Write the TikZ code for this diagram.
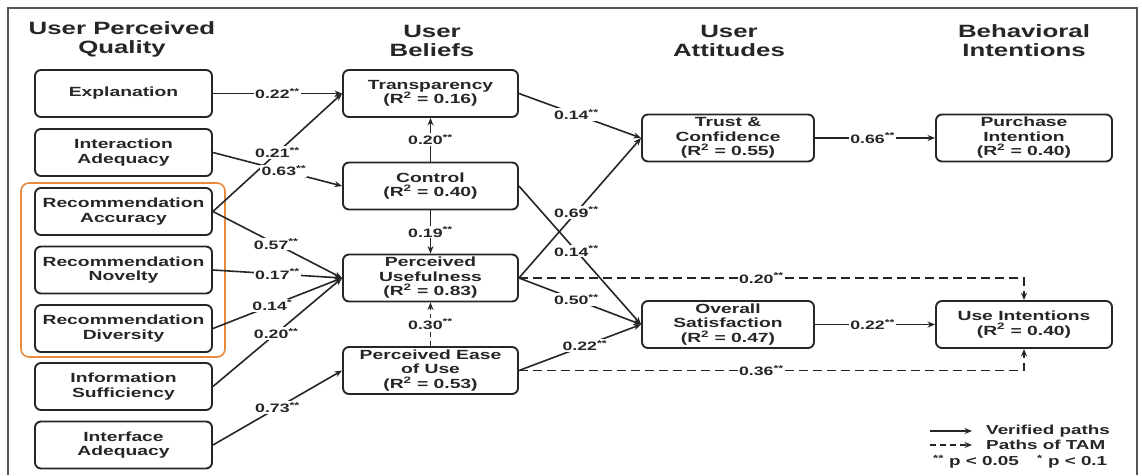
\documentclass[tikz,border=0pt]{standalone}
\usepackage{fontspec}
\setmainfont{Liberation Sans}[FakeStretch=1.45]
\usetikzlibrary{arrows.meta}
\definecolor{ink}{HTML}{262626}
\definecolor{framegray}{HTML}{555555}
\definecolor{accent}{HTML}{E8893C}
\newcommand{\twostar}{\textsuperscript{**}}
\newcommand{\onestar}{\textsuperscript{*}}
\newcommand{\Rsq}[1]{(R\textsuperscript{2} = #1)}

\begin{document}
\begin{tikzpicture}[x=1pt,y=-1pt,
  box/.style={draw=ink, line width=1.9pt, rounded corners=6pt, minimum height=47pt,
    align=center, text=ink, inner sep=1pt, font=\fontsize{13.3}{14.5}\selectfont\bfseries},
  leftbox/.style={box, minimum width=177pt},
  midbox/.style={box, minimum width=175pt},
  attbox/.style={box, minimum width=172pt},
  intbox/.style={box, minimum width=176pt},
  header/.style={align=center, text=ink, font=\fontsize{17.8}{19}\selectfont\bfseries},
  lbl/.style={fill=white, inner sep=1.2pt, text=ink, font=\fontsize{12.2}{13}\selectfont\bfseries},
  path/.style={draw=ink, line width=1.6pt, -{Stealth[length=7.5pt,width=6pt]}},
  tam/.style={path, dash pattern=on 9pt off 5pt},
  legtext/.style={anchor=west, text=ink, inner sep=0pt, font=\fontsize{13}{14}\selectfont\bfseries}
]
\useasboundingbox (0,0) rectangle (1142,475);
\fill[white] (0,0) rectangle (1142,475);
% outer frame
\draw[framegray, line width=1.2pt] (8,475) -- (8,8) -- (1137,8) -- (1137,475);

% column headers
\node[header] (h1) at (122,39) {User Perceived\\Quality};
\node[header] (h2) at (432,41) {User\\Beliefs};
\node[header] (h3) at (729,41) {User\\Attitudes};
\node[header] (h4) at (1024,41) {Behavioral\\Intentions};

% recommendation group outline
\draw[accent, line width=1.6pt, rounded corners=8pt] (21,183) rectangle (225,357);

% user perceived quality
\node[leftbox] (expl)  at (123.5,93.5)  {Explanation};
\node[leftbox] (inter) at (123.5,152.5) {Interaction\\Adequacy};
\node[leftbox] (racc)  at (123.5,211.5) {Recommendation\\Accuracy};
\node[leftbox] (rnov)  at (123.5,270)   {Recommendation\\Novelty};
\node[leftbox] (rdiv)  at (123.5,328.5) {Recommendation\\Diversity};
\node[leftbox] (info)  at (123.5,386.5) {Information\\Sufficiency};
\node[leftbox] (iface) at (123.5,445)   {Interface\\Adequacy};

% user beliefs
\node[midbox] (trans) at (430.5,93.5) {Transparency\\\Rsq{0.16}};
\node[midbox] (ctrl)  at (430.5,186)  {Control\\\Rsq{0.40}};
\node[midbox] (pu)    at (430.5,278)  {Perceived\\Usefulness\\\Rsq{0.83}};
\node[midbox] (peou)  at (430.5,370.5){Perceived Ease\\of Use\\\Rsq{0.53}};

% user attitudes
\node[attbox] (trust) at (728,138)   {Trust \&\\Confidence\\\Rsq{0.55}};
\node[attbox] (sat)   at (728,324.5) {Overall\\Satisfaction\\\Rsq{0.47}};

% behavioral intentions
\node[intbox] (purch)  at (1024,138)   {Purchase\\Intention\\\Rsq{0.40}};
\node[intbox] (useint) at (1024,324.5) {Use Intentions\\\Rsq{0.40}};

% quality -> beliefs
\draw[path] (expl.east)  -- node[lbl] {0.22\twostar} (trans.west);
\draw[path] (racc.east)  -- node[lbl,pos=0.5] {0.21\twostar} (trans.west);
\draw[path] (inter.east) -- node[lbl,pos=0.55] {0.63\twostar} (ctrl.west);
\draw[path] (racc.east)  -- node[lbl,pos=0.49] {0.57\twostar} (pu.west);
\draw[path] (rnov.east)  -- node[lbl,pos=0.5] {0.17\twostar} (pu.west);
\draw[path] (rdiv.east)  -- node[lbl,pos=0.46] {0.14\onestar} (pu.west);
\draw[path] (info.east)  -- node[lbl,pos=0.49] {0.20\twostar} (pu.west);
\draw[path] (iface.east) -- node[lbl,pos=0.5] {0.73\twostar} (peou.west);

% within beliefs
\draw[path] (ctrl.north) -- node[lbl] {0.20\twostar} (trans.south);
\draw[path] (ctrl.south) -- node[lbl] {0.19\twostar} (pu.north);
\draw[tam, dash pattern=on 5pt off 4pt] (peou.north) -- node[lbl] {0.30\twostar} (pu.south);

% beliefs -> attitudes
\draw[path] (trans.east) -- node[lbl,pos=0.47] {0.14\twostar} (trust.west);
\draw[path] (pu.east)    -- node[lbl,pos=0.47] {0.69\twostar} (trust.west);
\draw[path] (ctrl.east)  -- node[lbl,pos=0.47] {0.14\twostar} (sat.west);
\draw[path] (pu.east)    -- node[lbl,pos=0.47] {0.50\twostar} (sat.west);
\draw[path] (peou.east)  -- node[lbl,pos=0.54] {0.22\twostar} (sat.west);

% attitudes -> intentions
\draw[path] (trust.east) -- node[lbl,pos=0.48] {0.66\twostar} (purch.west);
\draw[path] (sat.east)   -- node[lbl,pos=0.48] {0.22\twostar} (useint.west);

% TAM paths
\coordinate (puturn)   at (useint.north |- pu.east);
\coordinate (peouturn) at (useint.south |- peou.east);
\draw[tam] (pu.east)   -- node[lbl,pos=0.48] {0.20\twostar} (puturn) -- (useint.north);
\draw[tam] (peou.east) -- node[lbl,pos=0.48] {0.36\twostar} (peouturn) -- (useint.south);

% legend
\coordinate (l1a) at (930,431);
\coordinate (l1b) at (972,431);
\coordinate (l2a) at (930,445);
\coordinate (l2b) at (972,445);
\draw[path] (l1a) -- (l1b);
\draw[tam, dash pattern=on 6pt off 4pt] (l2a) -- (l2b);
\node[legtext] (leg1) at (986,431) {Verified paths};
\node[legtext] (leg2) at (986,445) {Paths of TAM};
\node[legtext] (leg3) at (933,462) {\twostar\ p < 0.05\quad\ \onestar\ p < 0.1};
\end{tikzpicture}
\end{document}
